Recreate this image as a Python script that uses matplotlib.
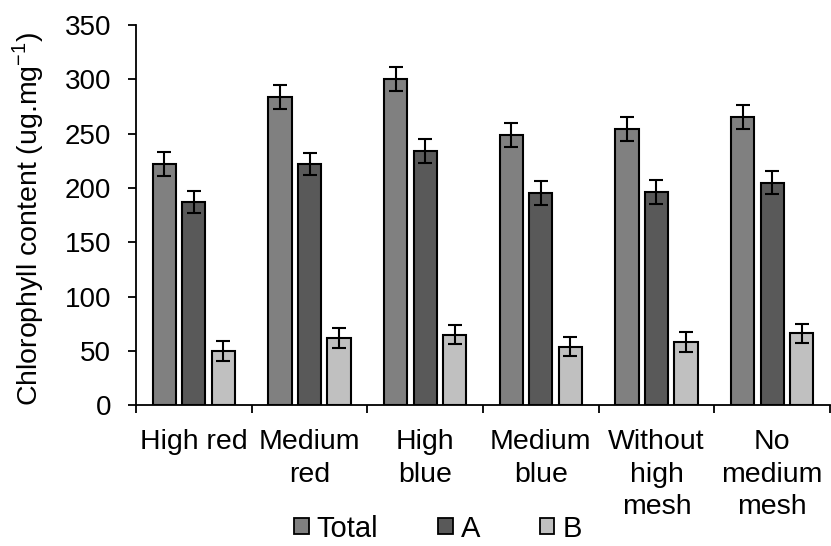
import matplotlib
matplotlib.use("Agg")
import matplotlib.pyplot as plt
import numpy as np
from matplotlib.patches import Patch

plt.rcParams['font.family'] = ['Liberation Sans', 'DejaVu Sans']
plt.rcParams['mathtext.fontset'] = 'custom'
plt.rcParams['mathtext.rm'] = 'Liberation Sans'

categories = ["High red", "Medium\nred", "High\nblue", "Medium\nblue", "Without\nhigh\nmesh", "No\nmedium\nmesh"]
total = [222, 284, 300, 249, 254, 265]
a_vals = [187, 222, 234, 195, 196, 205]
b_vals = [50, 62, 65, 54, 58, 66]
total_err = [11, 11, 11, 11, 11, 11]
a_err = [10, 10, 11, 11, 11, 11]
b_err = [9, 9, 9, 9, 9, 9]
series_names = ["Total", "A", "B"]
colors = ["#808080", "#595959", "#c0c0c0"]

fig = plt.figure(figsize=(8.31, 5.46), dpi=100)
ax = fig.add_axes([0.1637, 0.258, 0.835, 0.696])

x = np.arange(len(categories))
w = 0.2
pitch = 0.255
for i, (vals, errs, name, c) in enumerate(zip([total, a_vals, b_vals], [total_err, a_err, b_err], series_names, colors)):
    ax.bar(x + (i - 1) * pitch, vals, width=w, color=c, edgecolor="black", linewidth=1.5,
           yerr=errs, capsize=5, error_kw=dict(elinewidth=1.5, capthick=1.5, ecolor="black"),
           label=name)

ax.set_xlim(-0.5, len(categories) - 0.5)
ax.set_ylim(0, 350)
ax.set_yticks(np.arange(0, 351, 50))
ax.tick_params(axis='y', labelsize=20, width=1.3, length=6, direction='out', pad=12)
ax.set_xticks(np.arange(-0.5, len(categories) - 0.4, 1.0))
ax.set_xticklabels([])
ax.tick_params(axis='x', width=1.3, length=6, direction='out')
for xi, lab in zip(x, categories):
    ax.text(xi, -22, lab, ha='center', va='top', fontsize=20.5, linespacing=1.33,
            transform=ax.transData)
ax.spines['top'].set_visible(False)
ax.spines['right'].set_visible(False)
ax.spines['left'].set_linewidth(1.3)
ax.spines['bottom'].set_linewidth(1.3)
ax.set_ylabel("Chlorophyll content (ug.mg$^{\\mathregular{-1}}$)", fontsize=20.5)
ax.yaxis.set_label_coords(-0.13, 0.49)

hs = [Patch(facecolor=c, edgecolor='black', linewidth=1.3) for c in colors]
fig.legend(hs, series_names, loc='center', bbox_to_anchor=(0.527, 0.032), ncol=3,
           frameon=False, fontsize=21, handlelength=0.5, handleheight=0.5,
           handletextpad=0.27, columnspacing=2.05, borderpad=0, borderaxespad=0)

fig.savefig("out.png", dpi=100)
